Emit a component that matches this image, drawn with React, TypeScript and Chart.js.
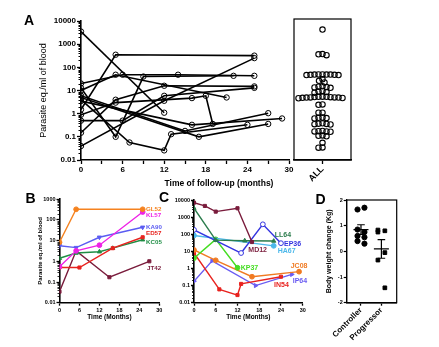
import React, { useEffect, useRef } from 'react';
import { Chart, registerables } from 'chart.js';
Chart.register(...registerables);

const FONT = '"Liberation Sans", Arial, Helvetica, sans-serif';

// ---------- Panel A: individual follow-up (months, parasite eq./ml) ----------
const A_X_TICKS = [0, 3, 6, 9, 12, 15, 18, 21, 24, 27, 30];
const A_Y_TICKS = [0.01, 0.1, 1, 10, 100, 1000, 10000];
const A_Y_LABELS = ['0.01', '0.1', '1', '10', '100', '1000', '10000'];
const A_P01 = [[0, 3500], [12, 1.1]];
const A_P02 = [[0, 1.5], [5, 350], [25, 320]];
const A_P03 = [[0, 20], [6, 48], [14, 48], [25, 43]];
const A_P04 = [[0, 10], [5, 48], [21, 5]];
const A_P05 = [[0, 13], [5, 0.1], [9, 40], [22, 43]];
const A_P06 = [[0, 0.15], [5, 4], [12, 16], [25, 15]];
const A_P07 = [[0, 4], [7, 0.057], [12, 0.026], [13, 0.13], [24, 0.33]];
const A_P08 = [[0, 0.5], [6, 0.5], [12, 5.9], [25, 13]];
const A_P09 = [[0, 6], [15, 0.18], [27, 1.05]];
const A_P10 = [[0, 5], [17, 0.1], [27, 0.36]];
const A_P11 = [[0, 3.5], [16, 0.33], [29, 0.62]];
const A_P12 = [[0, 0.9], [5, 3], [16, 4.7], [18, 5.9], [19, 0.36]];
const A_P13 = [[0, 0.04], [12, 3.6], [25, 250]];
const A_SERIES = [A_P01, A_P02, A_P03, A_P04, A_P05, A_P06, A_P07, A_P08, A_P09, A_P10, A_P11, A_P12, A_P13];

// ALL column (every measurement)
const ALL_VALUES = [4200, 360, 330, 370, 48, 47, 49, 46, 48, 47, 49, 46, 48, 30, 26, 22, 15, 14, 13, 14.5, 13.5,
  9, 8.5, 8, 9.5, 5.3, 5.0, 5.2, 4.9, 5.4, 4.8, 5.1, 4.7, 5.3, 4.6, 5.0, 4.9, 2.4, 2.5, 1.1, 1.1,
  0.66, 0.64, 0.68, 0.62, 0.36, 0.35, 0.38, 0.34, 0.37, 0.17, 0.165, 0.18, 0.17, 0.175, 0.11, 0.105, 0.115,
  0.055, 0.034, 0.035];
const ALL_Y_MAX = 12000;

// ---------- Panel B ----------
const B_X_TICKS = [0, 6, 12, 18, 24, 30];
const B_Y_TICKS = [0.01, 0.1, 1, 10, 100, 1000];
const B_Y_LABELS = ['0.01', '0.1', '1', '10', '100', '1000'];
const B_GL52 = [[0, 8.3], [5, 325], [25, 325]];
const B_KL57 = [[0, 0.55], [5, 3.2], [12, 6], [25, 240]];
const B_KA90 = [[0, 5.6], [5, 4.6], [12, 14.5], [25, 44]];
const B_ED57 = [[0, 0.5], [6, 0.5], [16, 4.3], [25, 14.5]];
const B_KC05 = [[0, 1.4], [5, 2.5], [12, 2.9], [16, 4.3], [25, 11]];
const B_JT42 = [[0, 0.034], [5, 3.2], [15, 0.17], [27, 1]];
const B_NAMES = ['GL52', 'KL57', 'KA90', 'ED57', 'KC05', 'JT42'];
const B_SERIES = [B_GL52, B_KL57, B_KA90, B_ED57, B_KC05, B_JT42];
const B_COLORS = ['#f5821f', '#ee22e6', '#5b5cf2', '#e8231f', '#1f8e45', '#7a1c3c'];
const B_STYLES = ['circle', 'circle', 'triangle', 'rect', 'triangle', 'rect'];
const B_ROT = [0, 0, 180, 0, 0, 0];

// ---------- Panel C ----------
const C_Y_TICKS = [0.01, 0.1, 1, 10, 100, 1000, 10000];
const C_Y_LABELS = ['0.01', '0.1', '1', '10', '100', '1000', '10000'];
const C_MD12 = [[0, 7000], [3, 4500], [6, 2100], [12, 3300], [16, 35]];
const C_LL64 = [[0, 3300], [6, 45], [14, 42], [22, 40]];
const C_EP36 = [[0, 180], [13, 8], [19, 380], [24, 30]];
const C_HA67 = [[0, 85], [22, 21]];
const C_KP37 = [[0, 4], [6, 50], [12, 1.1]];
const C_JC08 = [[0, 12], [6, 3], [16, 0.33], [29, 0.65]];
const C_IN54 = [[0, 8], [7, 0.06], [12, 0.028], [13, 0.125], [24, 0.33]];
const C_IP64 = [[0, 0.18], [5, 2.8], [17, 0.1], [27, 0.45]];
const C_NAMES = ['MD12', 'LL64', 'EP36', 'HA67', 'KP37', 'JC08', 'IN54', 'IP64'];
const C_SERIES = [C_MD12, C_LL64, C_EP36, C_HA67, C_KP37, C_JC08, C_IN54, C_IP64];
const C_COLORS = ['#7a1c3c', '#2c7d4d', '#3434e0', '#4db8ea', '#45dd22', '#f07a22', '#e8231f', '#6a5cf2'];
const C_STYLES = ['rect', 'triangle', 'circle', 'circle', 'circle', 'circle', 'rect', 'triangle'];
const C_HOLLOW = [false, false, true, false, false, false, false, false];

// ---------- Panel D ----------
const D_CATEGORIES = ['Controller', 'Progressor'];
const D_CONTROLLER = [1.63, 1.7, 0.85, 0.75, 0.6, 0.55, 0.4, 0.3];
const D_PROGRESSOR = [0.83, 0.8, 0.75, -0.05, -0.34, -1.42];
const D_Y_TICKS = [-2, -1, 0, 1, 2];

// ---------- helpers ----------
function fixWidth(w: number) {
  return (s: any) => { s.width = w; s.paddingTop = 0; s.paddingBottom = 0; s.paddingLeft = 0; s.paddingRight = 0; };
}
function fixHeight(h: number) {
  return (s: any) => { s.height = h; s.paddingTop = 0; s.paddingBottom = 0; s.paddingLeft = 0; s.paddingRight = 0; };
}
const f = (size: number, weight: any = 'bold') => ({ family: FONT, size, weight });

const minorLogTicks = {
  id: 'minorLogTicks',
  afterDraw(chart: any, _a: any, opts: any) {
    if (!opts || !opts.len) return;
    const y = chart.scales.y;
    const ctx = chart.ctx;
    const left = chart.chartArea.left;
    ctx.save();
    ctx.strokeStyle = '#000';
    ctx.lineWidth = opts.width || 1;
    const lo = Math.floor(Math.log10(y.min));
    const hi = Math.ceil(Math.log10(y.max));
    for (let e = lo; e < hi; e++) {
      for (let k = 2; k <= 9; k++) {
        const v = k * Math.pow(10, e);
        if (v < y.min || v > y.max) continue;
        const py = Math.round(y.getPixelForValue(v)) + 0.5;
        ctx.beginPath();
        ctx.moveTo(left - opts.len, py);
        ctx.lineTo(left, py);
        ctx.stroke();
      }
    }
    ctx.restore();
  },
};

const boxFrame = {
  id: 'boxFrame',
  afterDraw(chart: any, _a: any, opts: any) {
    if (!opts || !opts.width) return;
    const { left, top, right, bottom } = chart.chartArea;
    const ctx = chart.ctx;
    ctx.save();
    ctx.strokeStyle = '#000';
    ctx.lineWidth = opts.width;
    ctx.strokeRect(left, top, right - left, bottom - top);
    ctx.restore();
  },
};

const meanSem = {
  id: 'meanSem',
  afterDatasetsDraw(chart: any, _a: any, opts: any) {
    if (!opts || !opts.on) return;
    const { ctx, scales } = chart;
    const { x, y } = scales;
    ctx.save();
    ctx.strokeStyle = '#000';
    ctx.lineWidth = 1.2;
    chart.data.datasets.forEach((ds: any, i: number) => {
      const vals = ds.data.map((p: any) => p.y);
      const n = vals.length;
      const m = vals.reduce((a: number, b: number) => a + b, 0) / n;
      const sd = Math.sqrt(vals.reduce((a: number, b: number) => a + (b - m) * (b - m), 0) / (n - 1));
      const sem = sd / Math.sqrt(n);
      const cx = x.getPixelForValue(i);
      const ym = y.getPixelForValue(m);
      const yt = y.getPixelForValue(m + sem);
      const yb = y.getPixelForValue(m - sem);
      ctx.beginPath();
      ctx.moveTo(cx - 7.5, ym); ctx.lineTo(cx + 7.5, ym);
      ctx.moveTo(cx - 3.8, yt); ctx.lineTo(cx + 3.8, yt);
      ctx.moveTo(cx - 3.8, yb); ctx.lineTo(cx + 3.8, yb);
      ctx.moveTo(cx, yt); ctx.lineTo(cx, yb);
      ctx.stroke();
    });
    ctx.restore();
  },
};

function swarm(values: number[], pxPerDecade: number, d: number, pxPerUnit: number) {
  const items = values.map((v, i) => ({ i, y: Math.log10(v) * pxPerDecade }));
  const order = [...items].sort((a, b) => b.y - a.y);
  const placed: { x: number; y: number }[] = [];
  const out = new Array(values.length).fill(0);
  for (const it of order) {
    let best = 0;
    for (let k = 0; k < 400; k++) {
      const off = (k % 2 === 0 ? 1 : -1) * Math.ceil(k / 2) * 0.5;
      if (placed.every((p) => (p.x - off) ** 2 + (p.y - it.y) ** 2 >= d * d)) { best = off; break; }
    }
    placed.push({ x: best, y: it.y });
    out[it.i] = best / pxPerUnit;
  }
  return out;
}

const baseOpts = {
  animation: false,
  responsive: false,
  events: [],
};
const noPlug = { legend: { display: false }, tooltip: { enabled: false } };

function logY(ticks: number[], labels: string[], width: number, max: number, size: number, tickLen: number, title?: any) {
  return {
    type: 'logarithmic',
    min: 0.01,
    max,
    afterBuildTicks: (s: any) => { s.ticks = ticks.map((v) => ({ value: v })); },
    afterFit: fixWidth(width),
    ticks: { callback: (_v: any, i: number) => labels[i], font: f(size), color: '#000', padding: 1, autoSkip: false },
    grid: { drawOnChartArea: false, tickLength: tickLen, tickColor: '#000', tickWidth: 1.3 },
    border: { color: '#000', width: 1.6 },
    title: title || { display: false },
  };
}

function linX(ticks: number[], min: number, max: number, height: number, size: number, tickLen: number, labelFn: any, title?: any) {
  return {
    type: 'linear',
    min,
    max,
    afterBuildTicks: (s: any) => { s.ticks = ticks.map((v) => ({ value: v })); },
    afterFit: fixHeight(height),
    ticks: { callback: labelFn, font: f(size), color: '#000', padding: 1, maxRotation: 0, minRotation: 0, autoSkip: false },
    grid: { drawOnChartArea: false, tickLength: tickLen, tickColor: '#000', tickWidth: 1.3 },
    border: { color: '#000', width: 1.6 },
    title: title || { display: false },
  };
}

const cfgA = () => ({
  type: 'line',
  data: {
    datasets: A_SERIES.map((s) => ({
      data: s.map(([x, y]) => ({ x, y })),
      borderColor: '#000', borderWidth: 1.6, tension: 0,
      pointRadius: 2.7, pointBorderWidth: 1, pointBorderColor: '#000', pointBackgroundColor: 'rgba(255,255,255,0)',
    })),
  },
  options: {
    ...baseOpts,
    layout: { padding: { left: 0, top: 21, right: 6, bottom: 0 } },
    plugins: { ...noPlug, minorLogTicks: { len: 2.5, width: 1 } },
    scales: {
      x: linX(A_X_TICKS, 0, 30, 40, 8, 4, (v: number) => (v % 6 === 0 ? String(v) : '')),
      y: logY(A_Y_TICKS, A_Y_LABELS, 81, 10000, 8, 4, {
        display: true, text: 'Parasite eq./ml of blood', font: f(9, 'normal'), color: '#000', padding: { top: 38.6, bottom: 0 },
      }),
    },
  },
  plugins: [minorLogTicks],
});

const cfgAll = () => {
  const offs = swarm(ALL_VALUES, 23.2, 3.7, 28.5);
  return {
    type: 'scatter',
    data: {
      datasets: [{
        data: ALL_VALUES.map((v, i) => ({ x: offs[i], y: v })),
        pointRadius: 2.7, pointBorderWidth: 1.1, pointBorderColor: '#000', pointBackgroundColor: 'rgba(255,255,255,0)',
      }],
    },
    options: {
      ...baseOpts,
      layout: { padding: { left: 9, top: 19, right: 14, bottom: 0 } },
      plugins: { ...noPlug, boxFrame: { width: 1.2 } },
      scales: {
        x: {
          ...linX([0], -1, 1, 40, 9, 4, () => 'ALL'),
          ticks: { callback: () => 'ALL', font: f(9), color: '#000', padding: 0, maxRotation: 45, minRotation: 45, autoSkip: false },
        },
        y: { type: 'logarithmic', min: 0.01, max: ALL_Y_MAX, display: false },
      },
    },
    plugins: [boxFrame],
  };
};

const lineSet = (s: number[][], color: string, style: string, rot: number, hollow: boolean) => ({
  data: s.map(([x, y]) => ({ x, y })),
  borderColor: color, borderWidth: 1.4, tension: 0,
  pointStyle: style, pointRotation: rot, pointRadius: style === 'rect' ? 2.2 : 2.4,
  pointBorderWidth: 1, pointBorderColor: color, pointBackgroundColor: hollow ? '#fff' : color,
});

const cfgB = () => ({
  type: 'line',
  data: { datasets: B_SERIES.map((s, i) => lineSet(s, B_COLORS[i], B_STYLES[i], B_ROT[i], false)) },
  options: {
    ...baseOpts,
    layout: { padding: { left: 0, top: 19.2, right: 15.7, bottom: 0 } },
    plugins: { ...noPlug, minorLogTicks: { len: 2, width: 0.8 } },
    scales: {
      x: linX(B_X_TICKS, 0, 30, 27.3, 5.5, 3, (v: number) => String(v), {
        display: true, text: 'Time (Months)', font: f(6.5), color: '#000', padding: { top: 0, bottom: 9.1 },
      }),
      y: logY(B_Y_TICKS, B_Y_LABELS, 59.5, 1000, 5.5, 3, {
        display: true, text: 'Parasite eq./ml of blood', font: f(6), color: '#000', padding: { top: 36.4, bottom: 0 },
      }),
    },
  },
  plugins: [minorLogTicks],
});

const cfgC = () => ({
  type: 'line',
  data: { datasets: C_SERIES.map((s, i) => lineSet(s, C_COLORS[i], C_STYLES[i], C_NAMES[i] === 'IP64' ? 90 : 0, C_HOLLOW[i])) },
  options: {
    ...baseOpts,
    layout: { padding: { left: 0, top: 20, right: 17.3, bottom: 0 } },
    plugins: { ...noPlug, minorLogTicks: { len: 2, width: 0.8 } },
    scales: {
      x: linX(B_X_TICKS, 0, 30, 27.3, 5.5, 3, (v: number) => String(v), {
        display: true, text: 'Time (Months)', font: f(6.5), color: '#000', padding: { top: 0, bottom: 9.1 },
      }),
      y: logY(C_Y_TICKS, C_Y_LABELS, 44, 10000, 5.5, 3),
    },
  },
  plugins: [minorLogTicks],
});

const jitter = (arr: number[], cat: number) => arr.map((v, i) => ({ x: cat + (i % 2 === 0 ? -0.17 : 0.17), y: v }));

const cfgD = () => ({
  type: 'scatter',
  data: {
    datasets: [
      { data: jitter(D_CONTROLLER, 0), pointStyle: 'circle', pointRadius: 2.6, pointBackgroundColor: '#000', pointBorderColor: '#000' },
      { data: jitter(D_PROGRESSOR, 1), pointStyle: 'rect', pointRadius: 2.6, pointBackgroundColor: '#000', pointBorderColor: '#000' },
    ],
  },
  options: {
    ...baseOpts,
    layout: { padding: { left: 0, top: 20, right: 13.3, bottom: 0 } },
    plugins: { ...noPlug, boxFrame: { width: 1.2 }, meanSem: { on: true } },
    scales: {
      x: {
        ...linX([0, 1], -0.7, 1.75, 44.3, 8, 3, (_v: any, i: number) => D_CATEGORIES[i]),
        ticks: { callback: (_v: any, i: number) => D_CATEGORIES[i], font: f(8), color: '#000', padding: 0, maxRotation: 45, minRotation: 45, autoSkip: false },
      },
      y: {
        type: 'linear', min: -2, max: 2,
        afterBuildTicks: (s: any) => { s.ticks = D_Y_TICKS.map((v) => ({ value: v })); },
        afterFit: fixWidth(46.7),
        ticks: { font: f(5.5), color: '#000', padding: 1, callback: (v: number) => String(v) },
        grid: { drawOnChartArea: false, tickLength: 3, tickColor: '#000', tickWidth: 1.2 },
        border: { color: '#000', width: 1.2 },
        title: { display: true, text: 'Body weight change (Kg)', font: f(7), color: '#000', padding: { top: 25.1, bottom: 0 } },
      },
    },
  },
  plugins: [boxFrame, meanSem],
});

function ChartCanvas({ left, top, width, height, config }: any) {
  const ref = useRef<HTMLCanvasElement>(null);
  useEffect(() => {
    const chart = new Chart(ref.current as HTMLCanvasElement, config() as any);
    return () => chart.destroy();
  }, []);
  return <canvas ref={ref} width={width} height={height} style={{ position: 'absolute', left, top, width, height }} />;
}

function T({ x, y, text, size, color = '#000', weight = 'bold', center = false }: any) {
  return (
    <span style={{
      position: 'absolute', left: x, top: y, transform: center ? 'translate(-50%,-50%)' : 'translateY(-50%)',
      fontFamily: FONT, fontSize: size, fontWeight: weight, color, lineHeight: 1, whiteSpace: 'nowrap',
    }}>{text}</span>
  );
}

// label layout (pixel anchors for the series name tags)
const B_LABEL_POS = [[146, 209.3], [146, 215.3], [146, 227.3], [146, 232.8], [146, 242.3], [147, 267.5]];
const C_LABEL_POS = [[248.3, 249.3], [274.7, 234], [284, 242.7], [277.7, 250.3], [240.7, 267.3], [290.7, 265.3], [274, 284.3], [292.7, 280.3]];

export default function App() {
  return (
    <div style={{ position: 'fixed', left: 0, top: 0, width: 439, height: 347, background: '#fff', overflow: 'hidden' }}>
      <ChartCanvas left={0} top={0} width={295} height={200} config={cfgA} />
      <ChartCanvas left={285} top={0} width={80} height={200} config={cfgAll} />
      <ChartCanvas left={0} top={180} width={175} height={150} config={cfgB} />
      <ChartCanvas left={150} top={180} width={170} height={150} config={cfgC} />
      <ChartCanvas left={300} top={180} width={110} height={167} config={cfgD} />
      <T x={29} y={20} text="A" size={14} center />
      <T x={30.5} y={198} text="B" size={14} center />
      <T x={164} y={197} text="C" size={14} center />
      <T x={320.5} y={198.5} text="D" size={14} center />
      <T x={219} y={183} text="Time of follow-up (months)" size={8.5} center />
      {B_NAMES.map((n, i) => <T key={n} x={B_LABEL_POS[i][0]} y={B_LABEL_POS[i][1]} text={n} size={6.2} color={B_COLORS[i]} />)}
      {C_NAMES.map((n, i) => <T key={n} x={C_LABEL_POS[i][0]} y={C_LABEL_POS[i][1]} text={n} size={7} color={C_COLORS[i]} />)}
    </div>
  );
}
